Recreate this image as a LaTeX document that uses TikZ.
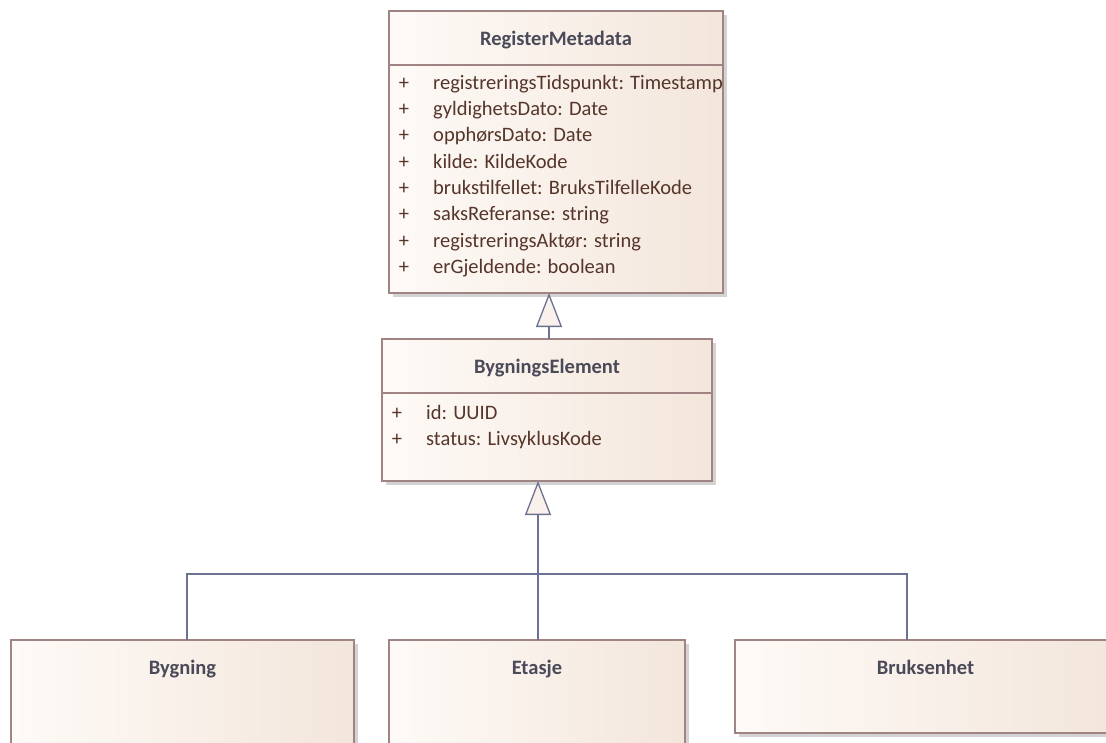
\documentclass[tikz,border=0pt]{standalone}
\usepackage{fontspec}
\setmainfont{Carlito}
\usetikzlibrary{arrows.meta,shadows}

\definecolor{boxborder}{HTML}{A08484}
\definecolor{boxleft}{HTML}{FEFAF7}
\definecolor{boxright}{HTML}{F3E6DB}
\definecolor{shadowgray}{HTML}{D3D3D3}
\definecolor{linkblue}{HTML}{6B7291}
\definecolor{titletext}{HTML}{4A4A58}
\definecolor{attrtext}{HTML}{56352A}
\definecolor{tipfill}{HTML}{FBF1EC}

\tikzset{
  classbox/.style={draw=boxborder, line width=1.6pt,
    left color=boxleft, right color=boxright,
    anchor=north west, inner sep=0pt, outer sep=0pt,
    drop shadow={shadow xshift=4pt, shadow yshift=-4pt, fill=shadowgray, opacity=1}},
  divider/.style={draw=boxborder, line width=1.4pt},
  classname/.style={font=\fontsize{20.5}{24}\selectfont\bfseries, text=titletext,
    anchor=mid, inner sep=0pt},
  attr/.style={font=\fontsize{20.5}{24}\selectfont, text=attrtext,
    anchor=mid west, inner sep=0pt},
  vis/.style={font=\fontsize{20.5}{24}\selectfont, text=attrtext,
    anchor=mid, inner sep=0pt},
  link/.style={draw=linkblue, line width=1.3pt},
  gen/.style={link, -{Triangle[width=26pt,length=34pt,fill=tipfill]}},
}

\begin{document}
\begin{tikzpicture}[x=1pt,y=-1pt]
  \useasboundingbox (0,0) rectangle (1106,742);
  \clip (0,0) rectangle (1106,742);

  % RegisterMetadata
  \node[classbox, minimum width=334pt, minimum height=282pt] (rm) at (389,11) {};
  \draw[divider] ([yshift=-54pt]rm.north west) -- ([yshift=-54pt]rm.north east);
  \node[classname] (rm-name) at ([yshift=-32pt]rm.north) {RegisterMetadata};
  \foreach \i/\txt in {0/{registreringsTidspunkt: Timestamp},
                        1/{gyldighetsDato: Date},
                        2/{opphørsDato: Date},
                        3/{kilde: KildeKode},
                        4/{brukstilfellet: BruksTilfelleKode},
                        5/{saksReferanse: string},
                        6/{registreringsAktør: string},
                        7/{erGjeldende: boolean}} {
    \node[vis]  (rm-vis-\i) at (404, 87+26.3*\i) {+};
    \node[attr] (rm-attr-\i) at (433, 87+26.3*\i) {\txt};
  }

  % BygningsElement
  \node[classbox, minimum width=330pt, minimum height=142pt] (be) at (382,339) {};
  \draw[divider] ([yshift=-54pt]be.north west) -- ([yshift=-54pt]be.north east);
  \node[classname] (be-name) at ([yshift=-32pt]be.north) {BygningsElement};
  \node[vis]  (be-vis-0) at (397,417) {+};
  \node[attr] (be-attr-0) at (426,417) {id: UUID};
  \node[vis]  (be-vis-1) at (397,443) {+};
  \node[attr] (be-attr-1) at (426,443) {status: LivsyklusKode};

  % Subclasses
  \node[classbox, minimum width=343pt, minimum height=130pt] (byg) at (11,640) {};
  \node[classname] (byg-name) at ([yshift=-32pt]byg.north) {Bygning};
  \node[classbox, minimum width=296pt, minimum height=130pt] (etj) at (389,640) {};
  \node[classname] (etj-name) at ([yshift=-32pt]etj.north) {Etasje};
  \node[classbox, minimum width=381pt, minimum height=93pt] (bru) at (735,640) {};
  \node[classname] (bru-name) at ([yshift=-32pt]bru.north) {Bruksenhet};

  % Generalisation links
  \draw[gen] ([xshift=2pt]be.north) -- ([xshift=2pt]be.north |- rm.south);
  \coordinate (j) at (538,574);
  \draw[link] ([xshift=4.5pt]byg.north) |- (j) -| ([xshift=-18.5pt]bru.north);
  \draw[link] ([xshift=1pt]etj.north) -- (j);
  \draw[gen] (j) -- (j |- be.south);
\end{tikzpicture}
\end{document}
